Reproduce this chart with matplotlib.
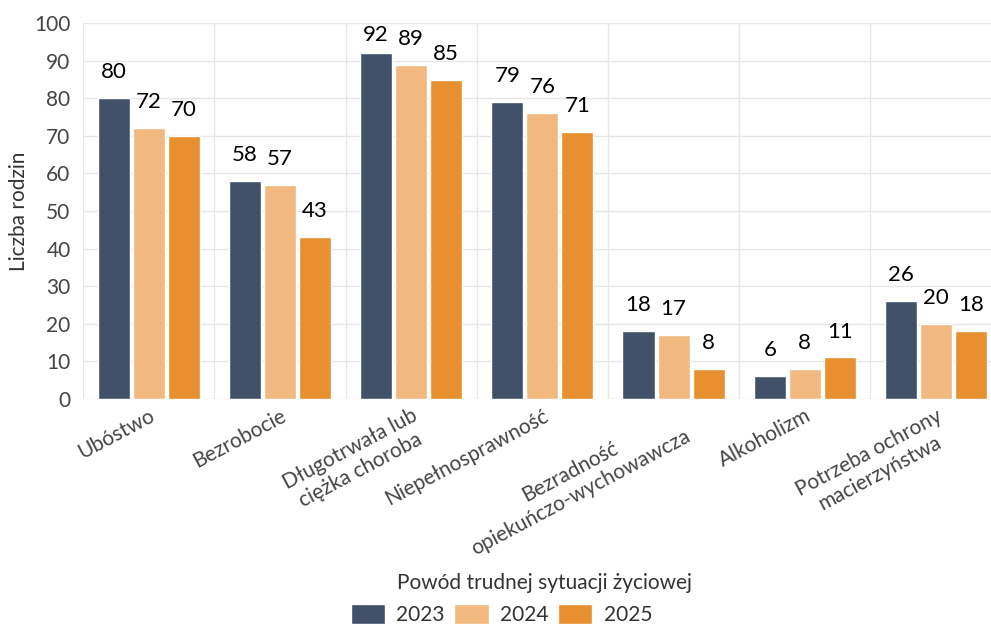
import numpy as np
import matplotlib
matplotlib.use("Agg")
import matplotlib.pyplot as plt

plt.rcParams['font.family'] = ['Lato', 'DejaVu Sans']

categories = ["Ubóstwo", "Bezrobocie", "Długotrwała lub\nciężka choroba", "Niepełnosprawność",
              "Bezradność\nopiekuńczo-wychowawcza", "Alkoholizm", "Potrzeba ochrony\nmacierzyństwa"]
years = ["2023", "2024", "2025"]
v2023 = [80, 58, 92, 79, 18, 6, 26]
v2024 = [72, 57, 89, 76, 17, 8, 20]
v2025 = [70, 43, 85, 71, 8, 11, 18]
colors = ["#41516a", "#f1b97f", "#e8902f"]

fig = plt.figure(figsize=(9.91, 6.28), dpi=100)
ax = fig.add_axes([0.0838, 0.365, 0.927, 0.598])

x = np.arange(len(categories))
width = 0.245
offsets = [-0.267, 0, 0.267]
for vals, yr, col, off in zip([v2023, v2024, v2025], years, colors, offsets):
    ax.bar(x + off, vals, width, color=col, edgecolor="white", linewidth=1, label=yr, zorder=3)
    for xi, v in zip(x, vals):
        ax.text(xi + off, min(v + 6.9, 97), str(v), ha="center", va="center",
                fontsize=16, color="black", zorder=4)

ax.set_xlim(-0.5, len(categories) - 0.5)
ax.set_ylim(0, 100)
ax.set_yticks(range(0, 101, 10))
ax.tick_params(axis="y", length=0, labelsize=15, labelcolor="#444444", pad=9)
ax.set_xticks(x)
ax.set_xticklabels(categories, rotation=28, ha="right", va="top", rotation_mode="anchor",
                   multialignment="center", fontsize=15, color="#444444")
ax.tick_params(axis="x", length=0, pad=5)

ax.grid(axis="y", color="#e6e6e6", linewidth=1, zorder=0)
for b in np.arange(-0.5, len(categories) - 0.5, 1.0):
    ax.axvline(b, color="#e6e6e6", linewidth=1, zorder=0)
for s in ax.spines.values():
    s.set_visible(False)

fig.text(0.019, 0.664, "Liczba rodzin", rotation=90, ha="center", va="center",
         fontsize=15, color="#333333")
fig.text(0.549, 0.071, "Powód trudnej sytuacji życiowej", ha="center", va="center",
         fontsize=15, color="#333333")

fig.legend(loc="lower center", bbox_to_anchor=(0.506, -0.025), ncol=3, frameon=False,
           fontsize=15, handlelength=1.65, handleheight=1.05, columnspacing=0.45,
           handletextpad=0.55, labelcolor="#333333")

fig.savefig("out.png", dpi=100)
